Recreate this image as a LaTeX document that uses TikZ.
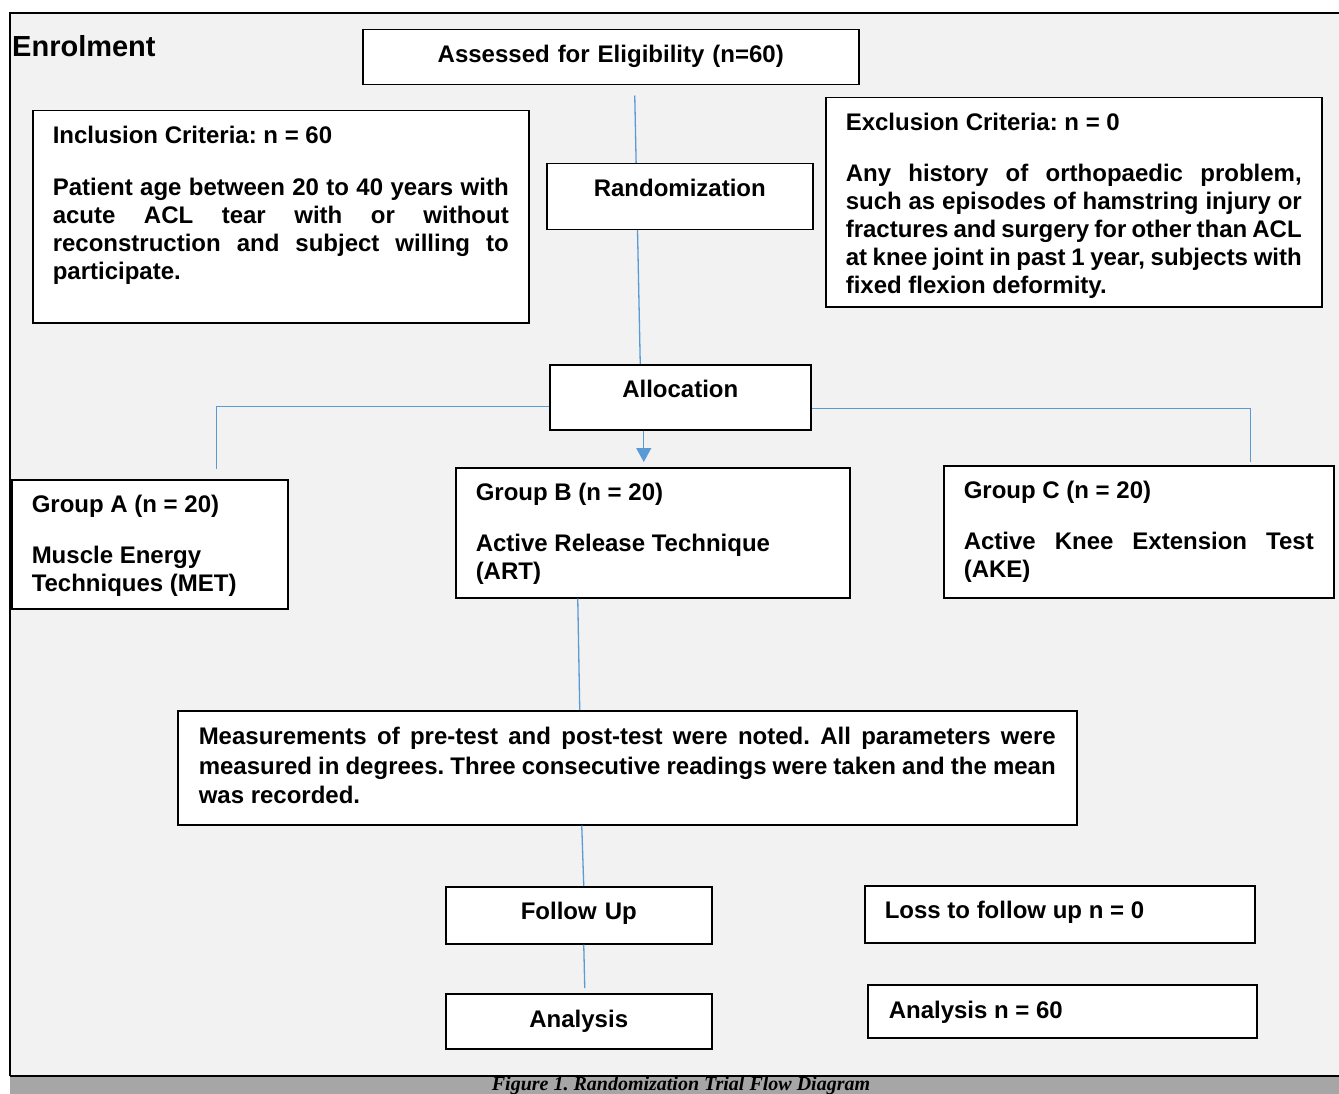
\documentclass[tikz,border=0pt]{standalone}
\usepackage{fontspec}
\setmainfont{Liberation Sans}
\newfontfamily\capfont{Liberation Serif}
\usetikzlibrary{arrows.meta}
\definecolor{bggray}{HTML}{F2F2F2}
\definecolor{lblue}{HTML}{5B9BD5}
\definecolor{bargray}{HTML}{A6A6A6}
\hyphenpenalty=10000
\exhyphenpenalty=10000
\tolerance=10000
\frenchspacing

\begin{document}
\begin{tikzpicture}[x=1pt,y=-1pt,
    box/.style={draw=black,line width=1.5pt,fill=white,anchor=north west,
        inner xsep=20pt,inner ysep=16pt,text height=17pt,
        font=\fontsize{24}{28}\selectfont\bfseries},
    link/.style={draw=lblue,line width=1.3pt}]
    \useasboundingbox (0,0) rectangle (1339,1094);
    \clip (0,0) rectangle (1339,1094);

    %Marco y barra
    \fill[bggray] (10,13) rectangle (1350,1076);
    \draw[line width=1.3pt] (10,1076) -- (10,13) -- (1350,13);
    \fill[bargray] (10,1076) rectangle (1350,1100);
    \draw[line width=2.5pt] (10,1076) -- (1350,1076);
    \node[font=\capfont\bfseries\itshape\fontsize{20}{23}\selectfont,anchor=base,inner sep=0] (cap) at (681,1090) {Figure 1. Randomization Trial Flow Diagram};
    \node[font=\fontsize{29}{32}\selectfont\bfseries,anchor=base west,inner sep=0] (enrol) at (12,56.4) {Enrolment};

    %Cajas
    \node[box,text width=456pt,align=center,text depth=6pt] (assess) at (362,29) {Assessed for Eligibility (n=60)};
    \node[box,text width=456pt,align=justify,text depth=163pt] (incl) at (32,110) {Inclusion Criteria: n = 60\\[24pt]
        Patient age between 20 to 40 years with\linebreak acute ACL tear with or without\linebreak reconstruction and subject willing to participate.};
    \node[box,text width=456pt,align=justify,text depth=160pt] (excl) at (825,97) {Exclusion Criteria: n = 0\\[23pt]
        Any history of orthopaedic problem, such as episodes of hamstring injury or fractures and surgery for other than ACL at knee joint in past 1 year, subjects with fixed flexion deformity.};
    \node[box,text width=221pt,align=center,text depth=16pt] (alloc) at (549,364) {Allocation};
    \node[box,text width=236pt,align=flush left,text depth=80pt] (grpA) at (11,479) {Group A (n = 20)\\[23pt]
        Muscle Energy Techniques (MET)};
    \node[box,text width=354pt,align=flush left,text depth=81pt] (grpB) at (455,467) {Group B (n = 20)\\[23pt]
        Active Release Technique (ART)};
    \node[box,text width=350pt,align=justify,text depth=83pt] (grpC) at (943,465) {Group C (n = 20)\\[23pt]
        Active Knee Extension Test (AKE)};
    \node[box,text width=857pt,inner xsep=21pt,inner ysep=17pt,align=justify,text depth=63pt,
        font=\fontsize{24}{29.5}\selectfont\bfseries] (meas) at (177,710) {Measurements of pre-test and post-test were noted. All parameters were measured in degrees. Three consecutive readings were taken and the mean was recorded.};
    \node[box,text width=226pt,align=center,text depth=8pt] (follow) at (445,886) {Follow Up};
    \node[box,text width=350pt,align=flush left,text depth=8pt] (loss) at (864,885) {Loss to follow up n = 0};
    \node[box,text width=226pt,align=center,inner ysep=17pt,text depth=4pt] (anal) at (445,993) {Analysis};
    \node[box,text width=347pt,inner xsep=21pt,inner ysep=17pt,align=flush left,text depth=2pt] (analn) at (867,984) {Analysis n = 60};

    %Conectores
    \draw[link] ([shift={(24,10)}]assess.south) -- ([xshift=-40pt]alloc.north);
    \draw[link] ([shift={(0,9)}]alloc.west) -| ([shift={(67,-10)}]grpA.north);
    \draw[link] ([shift={(0,11)}]alloc.east) -| ([shift={(112,-3)}]grpC.north);
    \draw[link,-{Triangle[width=15pt,length=14pt]}] ([xshift=-36.5pt]alloc.south) -- ([shift={(-9,-5)}]grpB.north);
    \draw[link] ([xshift=-75pt]grpB.south) -- ([xshift=-47.5pt]meas.north);
    \draw[link] ([xshift=-45.5pt]meas.south) -- ([xshift=5pt]follow.north);
    \draw[link] ([xshift=5pt]follow.south) -- ([shift={(6,-5)}]anal.north);

    %Caja sobre la linea
    \node[box,text width=226pt,align=center,text depth=17pt] (rand) at (546,163) {Randomization};
\end{tikzpicture}
\end{document}
